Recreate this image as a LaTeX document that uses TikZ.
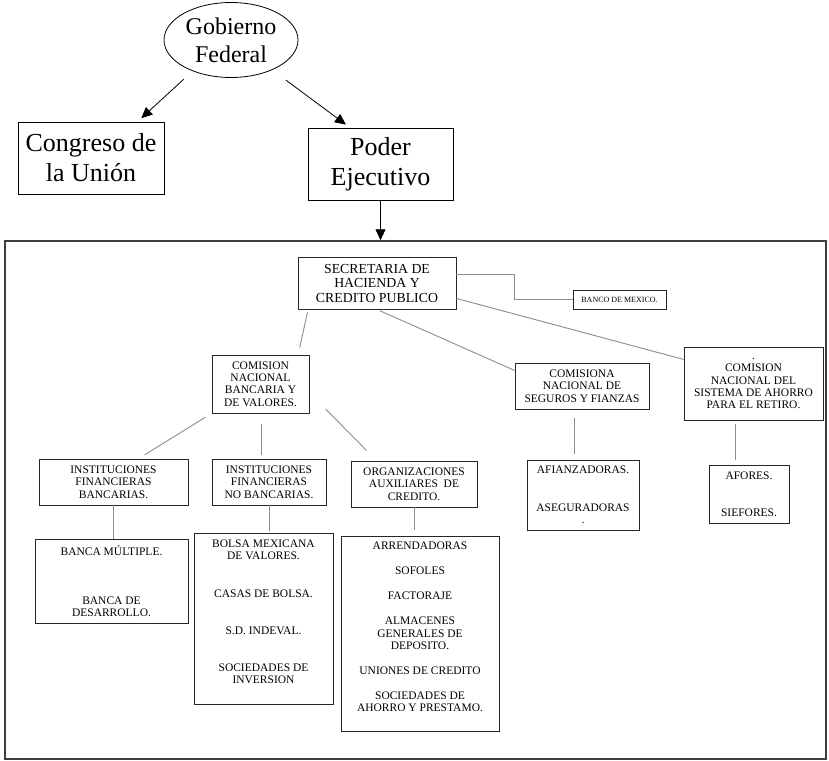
\documentclass[tikz,border=0pt]{standalone}
\usepackage{fontspec}
\setmainfont{Liberation Serif}
\usepackage{tikz}
\usetikzlibrary{arrows.meta}
\usetikzlibrary{shapes.geometric}
\tikzset{
  caja/.style={draw=black!85, line width=0.9pt, align=center, inner sep=0pt, font=\fontsize{11.5}{12.3}\selectfont},
  grande/.style={draw, line width=0.8pt, align=center, inner sep=0pt, font=\fontsize{26}{30}\selectfont},
  tam/.style 2 args={minimum width=#1, minimum height=#2},
  linea/.style={draw=black!45, line width=0.9pt},
  flecha/.style={-{Triangle[length=11pt,width=10pt]}, line width=0.8pt},
}
\begin{document}
\begin{tikzpicture}[x=1pt, y=-1pt]
  \useasboundingbox (0,0) rectangle (829,760);
  % nivel superior
  \node[ellipse, draw, line width=0.8pt, tam={134pt}{75pt}, inner sep=0pt, align=center,
        font=\fontsize{24}{28}\selectfont] (gob) at (231,40) {Gobierno\\Federal};
  \node[grande, tam={146pt}{72pt}] (congreso) at (91,158) {Congreso de\\la Unión};
  \node[grande, tam={145pt}{72pt}] (poder) at (380.5,164) {Poder\\Ejecutivo};
  \node[draw=black!75, line width=1.5pt, tam={821pt}{518pt}] (marco) at (415.5,500) {};
  \draw[flecha, shorten <=12pt, shorten >=5pt] (gob.-141) -- (congreso.38);
  \draw[flecha, shorten <=17pt, shorten >=5pt] (gob.-36) -- (poder.130);
  \draw[flecha] (poder.south) -- (poder.south |- marco.north);
  % secretaria y organismos
  \node[caja, tam={158pt}{52pt}, font=\fontsize{13.8}{14.5}\selectfont] (shcp) at (377,283) {SECRETARIA DE\\HACIENDA Y\\CREDITO PUBLICO};
  \node[caja, tam={93pt}{19pt}, font=\fontsize{8}{10}\selectfont] (banco) at (619.5,299.5) {BANCO DE MEXICO.};
  \node[caja, tam={97pt}{58pt}] (cnbv) at (260.5,384) {COMISION\\NACIONAL\\BANCARIA Y\\DE VALORES.};
  \node[caja, tam={134pt}{46pt}] (cnsf) at (582,386) {COMISIONA\\NACIONAL DE\\SEGUROS Y FIANZAS};
  \node[caja, tam={139pt}{73pt}] (consar) at (753.5,383.5) {.\\COMISION\\NACIONAL DEL\\SISTEMA DE AHORRO\\PARA EL RETIRO.};
  \draw[linea] (shcp.6.5) -| ([xshift=-58pt]banco.west) -- (banco.west);
  \draw[linea, shorten <=3pt, shorten >=7pt] (shcp.-159) -- (cnbv.38);
  \draw[linea, shorten <=3pt] (shcp.south) -- (cnsf.167);
  \draw[linea] (shcp.-11.4) -- (consar.161);
  % intermediarios
  \node[caja, tam={149pt}{46pt}] (ifb) at (113.5,482) {INSTITUCIONES\\FINANCIERAS\\BANCARIAS.};
  \node[caja, tam={114pt}{46pt}] (ifnb) at (269,482) {INSTITUCIONES\\FINANCIERAS\\NO BANCARIAS.};
  \node[caja, tam={126pt}{46pt}] (oac) at (414,484) {ORGANIZACIONES\\AUXILIARES\ \ DE\\CREDITO.};
  \draw[linea, shorten <=7pt, shorten >=7pt] (cnbv.south west) -- (ifb.43);
  \draw[linea, shorten <=11pt, shorten >=4pt] ([xshift=0.5pt]cnbv.south) -- ([xshift=0.5pt]cnbv.south |- ifnb.north);
  \draw[linea, shorten <=23pt, shorten >=14pt] (cnbv.-10) -- (oac.148);
  % entidades
  \node[caja, tam={153pt}{84pt}] (bm) at (111.5,581) {BANCA MÚLTIPLE.\\[36.7pt]BANCA DE\\DESARROLLO.};
  \node[caja, tam={139pt}{171pt}] (bmv) at (263.5,618.5) {BOLSA MEXICANA\\DE VALORES.\\[25pt]CASAS DE BOLSA.\\[25pt]S.D. INDEVAL.\\[25pt]SOCIEDADES DE\\INVERSION\\[1pt]\mbox{}};
  \node[caja, tam={158pt}{195pt}] (arr) at (420,633.5) {ARRENDADORAS\\[12.7pt]SOFOLES\\[12.7pt]FACTORAJE\\[12.7pt]ALMACENES\\GENERALES DE\\DEPOSITO.\\[12.7pt]UNIONES DE CREDITO\\[12.7pt]SOCIEDADES DE\\AHORRO Y PRESTAMO.\\[1pt]\mbox{}};
  \node[caja, tam={112pt}{70pt}] (afi) at (583,495) {AFIANZADORAS.\\[25.7pt]ASEGURADORAS\\.};
  \node[caja, tam={80pt}{58pt}] (afores) at (749,494) {AFORES.\\[24.7pt]SIEFORES.};
  \draw[linea] (ifb.south) -- (ifb.south |- bm.north);
  \draw[linea, shorten >=2pt] (ifnb.south) -- (ifnb.south |- bmv.north);
  \draw[linea, shorten >=6pt] (oac.south) -- (oac.south |- arr.north);
  \draw[linea, shorten <=9pt, shorten >=6pt] ([xshift=-8pt]cnsf.south) -- ([xshift=-8pt]cnsf.south |- afi.north);
  \draw[linea, shorten <=4pt, shorten >=5pt] ([xshift=-18.5pt]consar.south) -- ([xshift=-18.5pt]consar.south |- afores.north);
\end{tikzpicture}
\end{document}
